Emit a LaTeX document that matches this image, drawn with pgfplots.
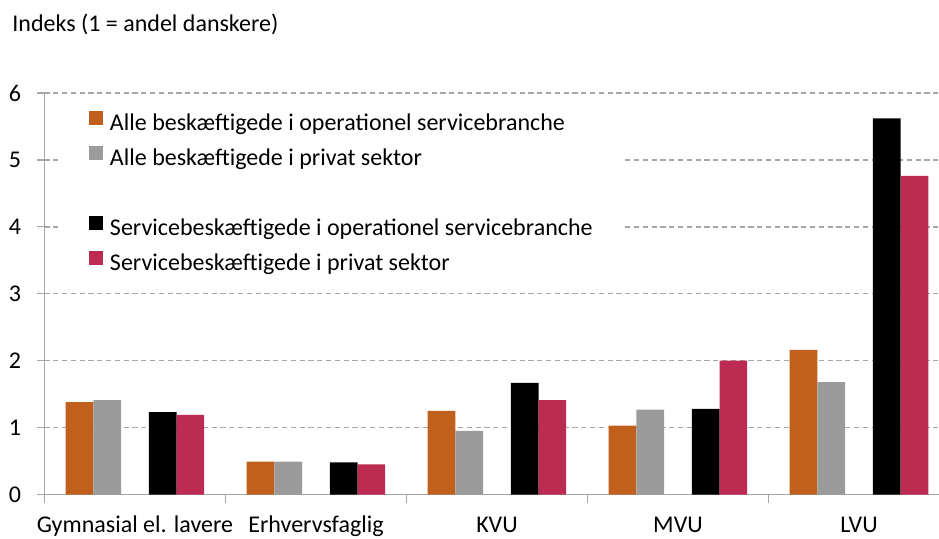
\documentclass[border=0pt]{standalone}
\usepackage{fontspec}
\setmainfont{Carlito}
\usepackage{pgfplots}
\pgfplotsset{compat=1.18}
\definecolor{cOrange}{RGB}{193,96,28}
\definecolor{cGray}{RGB}{155,155,155}
\definecolor{cCrimson}{RGB}{187,43,82}
\definecolor{axisgray}{RGB}{166,166,166}
\begin{document}
\fontsize{12pt}{14pt}\selectfont
\begin{tikzpicture}
\useasboundingbox (-22.25pt,-21.75pt) rectangle (447.25pt,247.25pt);
\begin{axis}[
  at={(0,0)}, anchor=south west,
  scale only axis,
  width=447.25pt, height=200.75pt,
  xmin=-0.5, xmax=4.442,
  ymin=0, ymax=6,
  axis x line*=bottom, axis y line*=left,
  axis line style={draw=axisgray, line width=0.65pt},
  tick align=outside,
  xtick={0,1,2,3,4},
  xticklabels={Gymnasial el. lavere, Erhvervsfaglig, KVU, MVU, LVU},
  minor xtick={-0.5,0.5,1.5,2.5,3.5},
  major x tick style={draw=none},
  minor x tick style={draw=axisgray, line width=0.65pt},
  minor tick length=4pt,
  ytick={0,1,2,3,4,5,6},
  yticklabels={0,1,2,3,4,5,6},
  y tick style={draw=axisgray, line width=0.65pt},
  major tick length=3.5pt,
  ymajorgrids,
  major grid style={draw=axisgray, line width=0.7pt, dash pattern=on 2.6pt off 1.8pt},
  xticklabel style={anchor=base, inner sep=0pt, yshift=-15.5pt},
  yticklabel style={anchor=east, inner sep=0pt, xshift=-8pt},
  ybar, bar width=13.85pt,
  legend cell align=left,
  legend style={
    at={(rel axis cs:0,1)}, anchor=north west,
    xshift=7.75pt, yshift=-4.25pt,
    fill=white, draw=none,
    inner xsep=14.5pt, inner ysep=4.5pt,
    nodes={inner sep=0pt, text height=8.5pt, text depth=2.5pt},
    row sep=5pt,
    /tikz/every odd column/.append style={column sep=3.3pt},
  },
  legend image code/.code={\fill[#1] (0pt,0pt) rectangle (7pt,7pt);},
]
\addplot[fill=cOrange, draw=none, bar shift=-27.7pt] coordinates {(0,1.38) (1,0.49) (2,1.25) (3,1.03) (4,2.16)};
\addlegendentry{Alle beskæftigede i operationel servicebranche}
\addplot[fill=cGray, draw=none, bar shift=-13.85pt] coordinates {(0,1.41) (1,0.49) (2,0.95) (3,1.27) (4,1.68)};
\addlegendentry{Alle beskæftigede i privat sektor}
\addlegendimage{fill=white, draw=none}
\addlegendentry{\phantom{A}}
\addplot[fill=black, draw=none, bar shift=13.85pt] coordinates {(0,1.23) (1,0.48) (2,1.67) (3,1.28) (4,5.62)};
\addlegendentry{Servicebeskæftigede i operationel servicebranche}
\addplot[fill=cCrimson, draw=none, bar shift=27.7pt] coordinates {(0,1.19) (1,0.45) (2,1.41) (3,2.00) (4,4.76)};
\addlegendentry{Servicebeskæftigede i privat sektor}
\end{axis}
\node[anchor=base west, inner sep=0pt] at (-16.25pt,231.4pt) {Indeks (1 = andel danskere)};
\end{tikzpicture}
\end{document}
